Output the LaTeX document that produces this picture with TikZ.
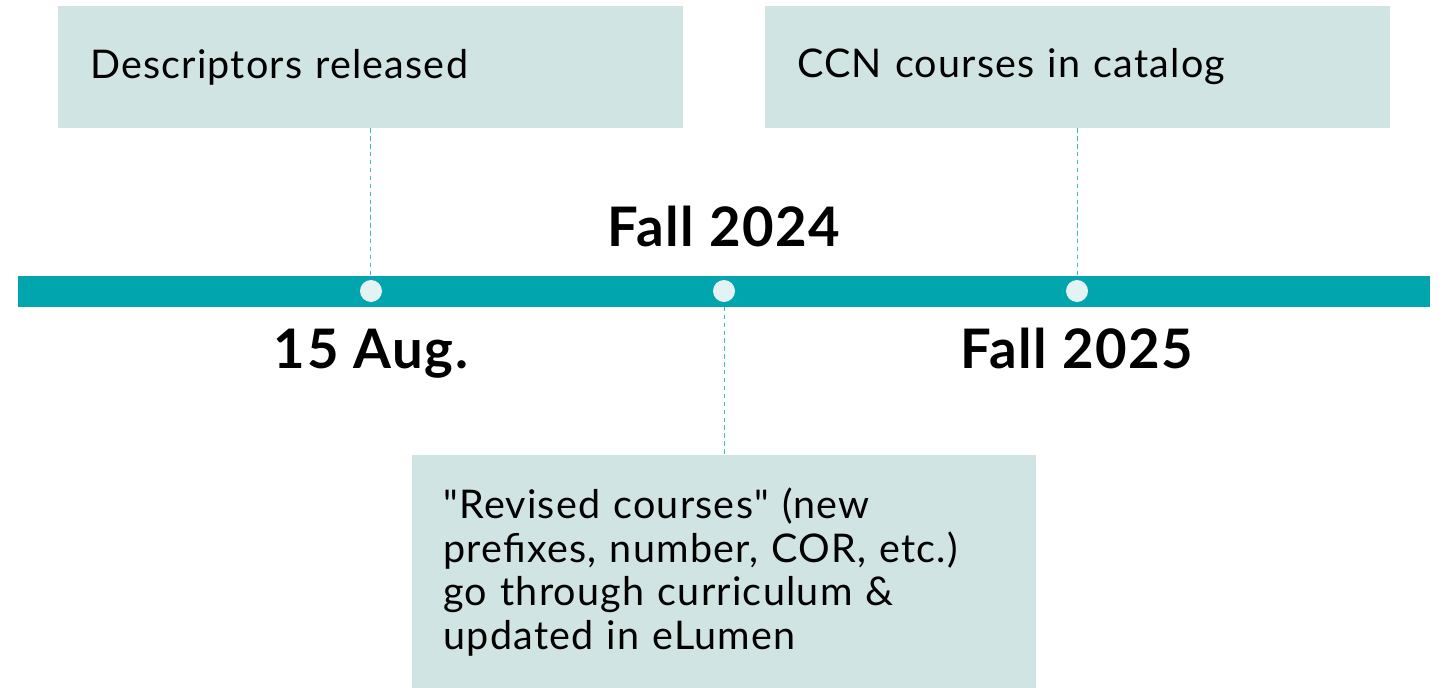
\documentclass[tikz,border=0pt]{standalone}
\usepackage{fontspec}
\setmainfont{Lato}
\newfontfamily\boxfont[LetterSpace=3]{Lato}
\newfontfamily\datefont[LetterSpace=3]{Lato Bold}
\usepackage{tikz}

\definecolor{barteal}{HTML}{00A5AE}
\definecolor{boxgray}{HTML}{D0E4E3}
\definecolor{dotfill}{HTML}{E3F3F3}
\definecolor{linkteal}{HTML}{3DBCC4}

\tikzset{
  eventbox/.style={fill=boxgray, inner xsep=0.64cm, inner ysep=0pt,
    text width=11.22cm, align=left, font=\boxfont\fontsize{22.5}{24.7}\selectfont},
  datelabel/.style={anchor=base, font=\datefont\fontsize{31}{31}\selectfont},
  tick/.style={circle, fill=dotfill, inner sep=0pt, minimum size=0.44cm},
  link/.style={linkteal, thin, dash pattern=on 2.5pt off 2pt}
}

\begin{document}
\begin{tikzpicture}[x=0.02cm,y=-0.02cm]
\useasboundingbox (0,0) rectangle (1443,687);

% timeline bar
\node[fill=barteal, inner sep=0pt, minimum width=28.24cm, minimum height=0.62cm] (bar) at (724,291) {};

% boxes
\node[eventbox, minimum height=2.44cm] (descr) at (370.5,67) {Descriptors released};
\node[eventbox, minimum height=2.44cm] (catalog) at (1077.5,67) {CCN courses in catalog};
\node[eventbox, minimum height=4.68cm] (revised) at (724,572)
  {\symbol{34}Revised courses\symbol{34} (new\\prefixes, number, COR, etc.)\\go through curriculum \&\\updated in eLumen};

% dashed links
\draw[link] (descr.south) -- (descr.south |- bar.north);
\draw[link] (catalog.south) -- (catalog.south |- bar.north);
\draw[link] (bar.south -| revised.north) -- (revised.north);

% dots on the bar
\node[tick] (aug) at (371,291) {};
\node[tick] (fall24) at (724,291) {};
\node[tick] (fall25) at (1077,291) {};

% dates
\node[datelabel] at (371,368) {15 Aug.};
\node[datelabel] at (724,246) {Fall 2024};
\node[datelabel] at (1077,368) {Fall 2025};
\end{tikzpicture}
\end{document}
